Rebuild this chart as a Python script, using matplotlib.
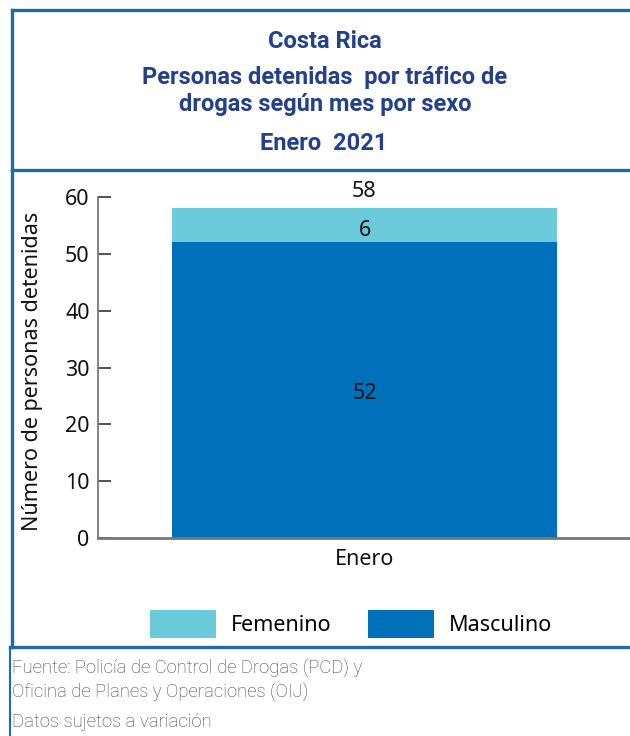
import matplotlib
matplotlib.use("Agg")
import matplotlib.pyplot as plt
from matplotlib.lines import Line2D

# Data
categories = ["Enero"]
masculino = [52]
femenino = [6]
yticks = [0, 10, 20, 30, 40, 50, 60]
title_lines = ["Costa Rica", "Personas detenidas  por tráfico de\ndrogas según mes por sexo", "Enero  2021"]
footer_lines = ["Fuente: Policía de Control de Drogas (PCD) y", "Oficina de Planes y Operaciones (OIJ)", "Datos sujetos a variación"]

W, H = 630, 736
DPI = 100
C_MASC = "#0070ba"
C_FEM = "#6ccbdb"
C_BORDER = "#1f6aab"
C_TITLE = "#23408e"
FONT = ["Noto Sans", "DejaVu Sans"]
plt.rcParams["font.family"] = FONT

fig = plt.figure(figsize=(W / DPI, H / DPI), dpi=DPI)

def px(x, y):
    return x / W, 1 - y / H

FS = 15.5

# Axes
left, right, top, bottom = 98, 631, 197, 538
ax = fig.add_axes([left / W, 1 - bottom / H, (right - left) / W, (bottom - top) / H])
x = list(range(len(categories)))
bw = 385 / (right - left)
b1 = ax.bar(x, masculino, width=bw, color=C_MASC, label="Masculino", zorder=2)
b2 = ax.bar(x, femenino, width=bw, bottom=masculino, color=C_FEM, label="Femenino", zorder=2)
ax.bar_label(b1, label_type="center", fontsize=FS, color="#111111", padding=-2)
ax.bar_label(b2, label_type="center", fontsize=FS, color="#111111", padding=-4)
for xi, m, f in zip(x, masculino, femenino):
    ax.annotate(f"{m + f}", (xi, m + f), xytext=(0, 12), textcoords="offset points",
                ha="center", va="center", fontsize=FS, color="#111111")
ax.set_xlim(-0.5, 0.5)
ax.set_ylim(0, 60)
ax.set_yticks(yticks)
ax.set_xticks(x)
ax.set_xticklabels(categories)
ax.tick_params(axis="y", direction="in", length=9, width=1.2, color="#333333",
               labelsize=FS, pad=6, labelcolor="#111111")
ax.tick_params(axis="x", length=0, labelsize=FS, pad=8, labelcolor="#111111")
for s in ["top", "right"]:
    ax.spines[s].set_visible(False)
ax.spines["left"].set_color("#777777")
ax.spines["bottom"].set_color("#777777")
ax.spines["left"].set_linewidth(1.3)
ax.spines["bottom"].set_linewidth(2.0)
ax.set_ylabel("Número de personas detenidas", fontsize=FS, color="#111111")
ax.yaxis.label.set_va("center")
ax.yaxis.set_label_coords(-(98 - 33) / (right - left), 0.49)

# Legend
fs_px = FS * DPI / 72
fig.legend(handles=[b2, b1], labels=["Femenino", "Masculino"], loc="center",
           bbox_to_anchor=px(351, 624), ncol=2, frameon=False, fontsize=FS,
           handlelength=66 / fs_px, handleheight=35 / fs_px, handletextpad=15 / fs_px,
           columnspacing=37 / fs_px, borderpad=0)

# Borders
lw = 2.4
fig.add_artist(Line2D([12 / W, 1], [1 - 10 / H] * 2, color=C_BORDER, lw=lw, transform=fig.transFigure))
fig.add_artist(Line2D([12 / W, 1], [1 - 170 / H] * 2, color=C_BORDER, lw=lw, transform=fig.transFigure))
fig.add_artist(Line2D([10 / W, 1], [1 - 647 / H] * 2, color=C_BORDER, lw=lw, transform=fig.transFigure))
fig.add_artist(Line2D([12 / W, 12 / W], [1 - 10 / H, 1 - 647 / H], color=C_BORDER, lw=lw, transform=fig.transFigure))
fig.add_artist(Line2D([10 / W, 10 / W], [1 - 647 / H, 0], color=C_BORDER, lw=1.5, transform=fig.transFigure))

# Title
tkw = dict(ha="center", va="center", color=C_TITLE, fontsize=17, fontweight="bold",
           family=["Roboto", "DejaVu Sans"])
fig.text(*px(325, 41), title_lines[0], **tkw)
fig.text(*px(325, 91), title_lines[1], linespacing=1.2, **tkw)
fig.text(*px(324, 144), title_lines[2], **tkw)

# Footer
fkw = dict(ha="left", va="center", color="#444444", fontsize=13.3, fontweight="light",
           family=["Roboto", "DejaVu Sans"])
fig.text(*px(12, 668), footer_lines[0], **fkw)
fig.text(*px(12, 692), footer_lines[1], **fkw)
fig.text(*px(12, 722), footer_lines[2], **fkw)

fig.savefig("out.png", dpi=DPI)
